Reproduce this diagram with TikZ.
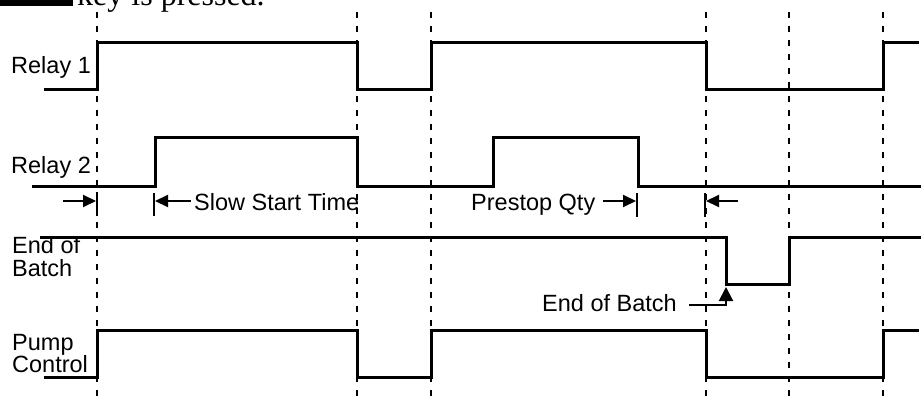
\documentclass[tikz,border=0pt]{standalone}
\usepackage{fontspec}
\setmainfont{Liberation Sans}
\newfontfamily\seriffont{Liberation Serif}
\usetikzlibrary{arrows.meta}
\begin{document}
\begin{tikzpicture}[x=1pt,y=-1pt,
  sig/.style={line width=3pt, line join=miter},
  guide/.style={line width=1.8pt, dash pattern=on 6pt off 8pt},
  tickmark/.style={line width=2pt},
  dimarrow/.style={line width=2pt, -{Triangle[length=13pt,width=12pt]}},
  lbl/.style={font=\fontsize{23.5}{23.5}\selectfont, inner sep=0pt, anchor=base west},
]
\useasboundingbox (0,0) rectangle (921,401);
\begin{scope}
  \clip (0,0) rectangle (921,401);
  \fill (0,-10) rectangle (73,6);
  \node[anchor=base west, inner sep=0pt, font=\seriffont\fontsize{32}{32}\selectfont] (keytxt) at (77,6) {key is pressed.};
\end{scope}

% guide lines
\foreach \gx/\gn in {97/g1,357/g2,431/g3,706/g4,789/g5,883/g6} {
  \coordinate (\gn top) at (\gx,12);
  \coordinate (\gn bot) at (\gx,401);
  \draw[guide] (\gn top) -- (\gn bot);
}

% signals
\draw[sig] (44,90) -- (97,90) -- (97,43) -- (357,43) -- (357,90) -- (431,90) -- (431,43) -- (706,43) -- (706,90) -- (883,90) -- (883,43) -- (919,43);
\draw[sig] (32,186) -- (155,186) -- (155,138) -- (357,138) -- (357,186) -- (493,186) -- (493,138) -- (638,138) -- (638,186) -- (921,186);
\draw[sig] (40,237) -- (726,237) -- (726,284) -- (789,284) -- (789,237) -- (921,237);
\draw[sig] (44,377) -- (97,377) -- (97,330) -- (357,330) -- (357,377) -- (431,377) -- (431,330) -- (706,330) -- (706,377) -- (883,377) -- (883,330) -- (919,330);

% labels
\node[lbl] (r1) at (11,74) {Relay 1};
\node[lbl] (r2) at (11,173) {Relay 2};
\node[lbl] (eob1) at (12,253) {End of};
\node[lbl] (eob2) at (12,276) {Batch};
\node[lbl] (pc1) at (12,350) {Pump};
\node[lbl] (pc2) at (12,372) {Control};

% dimension marks
\coordinate (t1a) at (97,192); \coordinate (t1b) at (97,216);
\coordinate (t2a) at (154,193); \coordinate (t2b) at (154,216);
\coordinate (t3a) at (637,193); \coordinate (t3b) at (637,217);
\coordinate (t4a) at (705,193); \coordinate (t4b) at (705,217);
\draw[tickmark] (t1a) -- (t1b);
\draw[tickmark] (t2a) -- (t2b);
\draw[tickmark] (t3a) -- (t3b);
\draw[tickmark] (t4a) -- (t4b);

\coordinate (a1s) at (63,201); \coordinate (a1e) at (96,201);
\draw[dimarrow] (a1s) -- (a1e);

\node[lbl] (sst) at (194,210) {Slow Start Time};
\coordinate (a2s) at (191,201); \coordinate (a2e) at (155,201);
\draw[dimarrow] (a2s) -- (a2e);

\node[lbl] (pq) at (471,210) {Prestop Qty};
\coordinate (a3s) at (603,201); \coordinate (a3e) at (636,201);
\draw[dimarrow] (a3s) -- (a3e);

\coordinate (a4s) at (738,201); \coordinate (a4e) at (706,201);
\draw[dimarrow] (a4s) -- (a4e);

\node[lbl] (eobl) at (542,311) {End of Batch};
\coordinate (eobfrom) at (689,305);
\coordinate (eobto) at (726,287);
\draw[dimarrow, arrows={-{Triangle[length=14pt,width=14pt]}}] (eobfrom) -| (eobto);
\end{tikzpicture}
\end{document}
